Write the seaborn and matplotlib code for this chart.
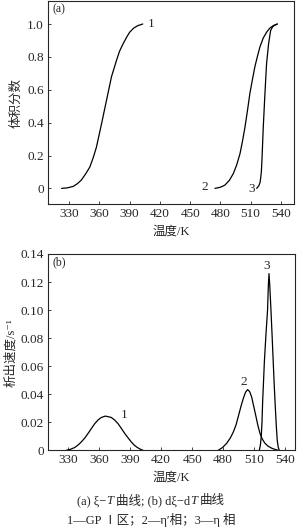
import numpy as np
import pandas as pd
import matplotlib
matplotlib.use("Agg")
import matplotlib.pyplot as plt
import seaborn as sns

# ---- data ----
# (a) volume fraction vs temperature
a1_T = [322.5, 328, 334, 338, 342, 346, 350.5, 354, 357, 362, 367, 372, 377, 380, 383.5, 387, 390, 394, 398, 403]
a1_v = [0, 0.003, 0.012, 0.028, 0.05, 0.085, 0.13, 0.19, 0.25, 0.39, 0.535, 0.68, 0.78, 0.835, 0.88, 0.92, 0.95, 0.975, 0.99, 1.0]
a2_T = [474.6, 480, 484.5, 489, 492.8, 496, 499.4, 502, 504.3, 507, 509.3, 512, 514.2, 517, 519.2, 522.5, 525.8, 529, 532.4, 536.5]
a2_v = [0.0, 0.007, 0.02, 0.05, 0.09, 0.14, 0.21, 0.29, 0.37, 0.48, 0.58, 0.67, 0.74, 0.81, 0.86, 0.915, 0.95, 0.975, 0.99, 1.0]
a3_T = [516, 518, 519.3, 519.9, 520.6, 521.2, 522.5, 524.2, 525.8, 527.8, 529.8, 531.5, 533, 536.4]
a3_v = [0.0, 0.015, 0.035, 0.06, 0.1, 0.17, 0.37, 0.58, 0.76, 0.88, 0.96, 0.98, 0.99, 1.0]

# (b) precipitation rate vs temperature
b1_T = [328, 332, 336.2, 339.5, 342.6, 346, 349.1, 352.5, 355.6, 359, 362, 365.9, 369.5, 371.7, 375, 378.2, 381.5, 384.7, 388, 391, 394, 396.9, 400, 402.4]
b1_r = [0, 0.0007, 0.002, 0.0038, 0.006, 0.0088, 0.012, 0.0157, 0.019, 0.0218, 0.0234, 0.0244, 0.0238, 0.0234, 0.0215, 0.019, 0.0155, 0.012, 0.0088, 0.006, 0.0036, 0.002, 0.0007, 0]
b2_T = [475.3, 479.5, 483.5, 487, 489.9, 492.5, 494.7, 497.2, 499.6, 501.8, 503.8, 505.8, 507.7, 509.8, 511.9, 513.8, 515.8, 518, 520.6, 523.5, 527.1, 530.5, 533.5]
b2_r = [0, 0.002, 0.005, 0.0088, 0.013, 0.018, 0.024, 0.031, 0.037, 0.0415, 0.0433, 0.0418, 0.038, 0.031, 0.024, 0.0175, 0.012, 0.008, 0.005, 0.003, 0.0015, 0.0006, 0]
b3_T = [515.1, 516.2, 517, 517.7, 518.4, 519.2, 520, 521.5, 523.1, 523.9, 524.5, 525.2, 526.4, 527.5, 528.6, 529.6, 530.6, 531.6, 532.5, 533.5, 534.5]
b3_r = [0, 0.004, 0.01, 0.02, 0.036, 0.049, 0.063, 0.082, 0.1, 0.118, 0.126, 0.118, 0.1, 0.082, 0.063, 0.046, 0.031, 0.017, 0.007, 0.002, 0]

xticks = [330, 360, 390, 420, 450, 480, 510, 540]
a_yticks = [0, 0.2, 0.4, 0.6, 0.8, 1.0]
a_yticklabels = ["0", "0.2", "0.4", "0.6", "0.8", "1.0"]
b_yticks = [0, 0.02, 0.04, 0.06, 0.08, 0.10, 0.12, 0.14]
b_yticklabels = ["0", "0.02", "0.04", "0.06", "0.08", "0.10", "0.12", "0.14"]

xlabel = "温度/K"
a_ylabel = "体积分数"
b_ylabel = "析出速度/s⁻¹"
caption2 = "1—GP Ⅰ区；2—η′相；3—η 相"

sns.set_style("ticks")
fam = ["Liberation Serif", "Noto Sans CJK SC", "DejaVu Sans"]
plt.rcParams["font.family"] = fam
plt.rcParams["axes.unicode_minus"] = False

fig = plt.figure(figsize=(3.02, 5.28), dpi=100)
axA = fig.add_axes([48/302, 1 - 204/528, 246/302, 203/528])
axB = fig.add_axes([48/302, 1 - 450.3/528, 247/302, 196.3/528])

def draw(ax, T, v):
    df = pd.DataFrame({"T": T, "v": v})
    sns.lineplot(data=df, x="T", y="v", ax=ax, color="black", lw=0.9,
                 sort=False, estimator=None)

for T, v in [(a1_T, a1_v), (a2_T, a2_v), (a3_T, a3_v)]:
    draw(axA, T, v)
for T, v in [(b1_T, b1_r), (b2_T, b2_r), (b3_T, b3_r)]:
    draw(axB, T, v)

tfs = 9.5
axA.set_xlim(309, 553)
axA.set_ylim(-0.095, 1.14)
axB.set_xlim(310.3, 549.7)
axB.set_ylim(0, 0.14)

for ax in (axA, axB):
    ax.set_xticks(xticks)
    ax.set_xticklabels([str(t) for t in xticks], fontsize=tfs)
    ax.tick_params(direction="in", length=2.5, width=0.6, pad=3)
    for s in ax.spines.values():
        s.set_linewidth(0.8)
        s.set_visible(True)
    ax.set_xlabel(xlabel, fontsize=9, labelpad=4)

axA.set_yticks(a_yticks)
axA.set_yticklabels(a_yticklabels, fontsize=tfs)
axB.set_yticks(b_yticks)
axB.set_yticklabels(b_yticklabels, fontsize=tfs)
axA.set_ylabel(a_ylabel, fontsize=9, labelpad=3)
axB.set_ylabel(b_ylabel, fontsize=9, labelpad=2)

lfs = 9.5
axA.text(0.02, 0.99, "(a)", transform=axA.transAxes, fontsize=8.5, va="top", ha="left")
axA.text(411, 1.0, "1", fontsize=lfs, ha="center", va="center")
axA.text(464.7, 0.01, "2", fontsize=lfs, ha="center", va="center")
axA.text(511, -0.005, "3", fontsize=lfs, ha="center", va="center")

axB.text(0.02, 0.99, "(b)", transform=axB.transAxes, fontsize=8.5, va="top", ha="left")
axB.text(384, 0.0255, "1", fontsize=lfs, ha="center", va="center")
axB.text(499.6, 0.049, "2", fontsize=lfs, ha="center", va="center")
axB.text(522.2, 0.1316, "3", fontsize=lfs, ha="center", va="center")

# caption line 1 built from pieces so that T can be italic
cfs = 9
pieces = [("(a) ξ−", "normal", 0), ("T", "italic", 0), ("曲线; (b) dξ−d", "normal", 3),
          ("T", "italic", 0), ("曲线", "normal", 3)]
fig.canvas.draw()
r = fig.canvas.get_renderer()
arts = []
for txt, st, gap in pieces:
    t = fig.text(0, 0, txt, fontsize=cfs, style=st, ha="left", va="baseline")
    arts.append((t, gap))
widths = [a.get_window_extent(renderer=r).width for a, g in arts]
total = sum(widths) + sum(g for a, g in arts)
x0 = (302 - total) / 2
yb = 528 - 504
for (a, gap), w in zip(arts, widths):
    x0 += gap
    a.set_transform(None)
    a.set_position((x0, yb))
    x0 += w

fig.text(0.5, 1 - 520/528, caption2, fontsize=cfs, ha="center", va="center")

fig.savefig("out.png", dpi=100)
